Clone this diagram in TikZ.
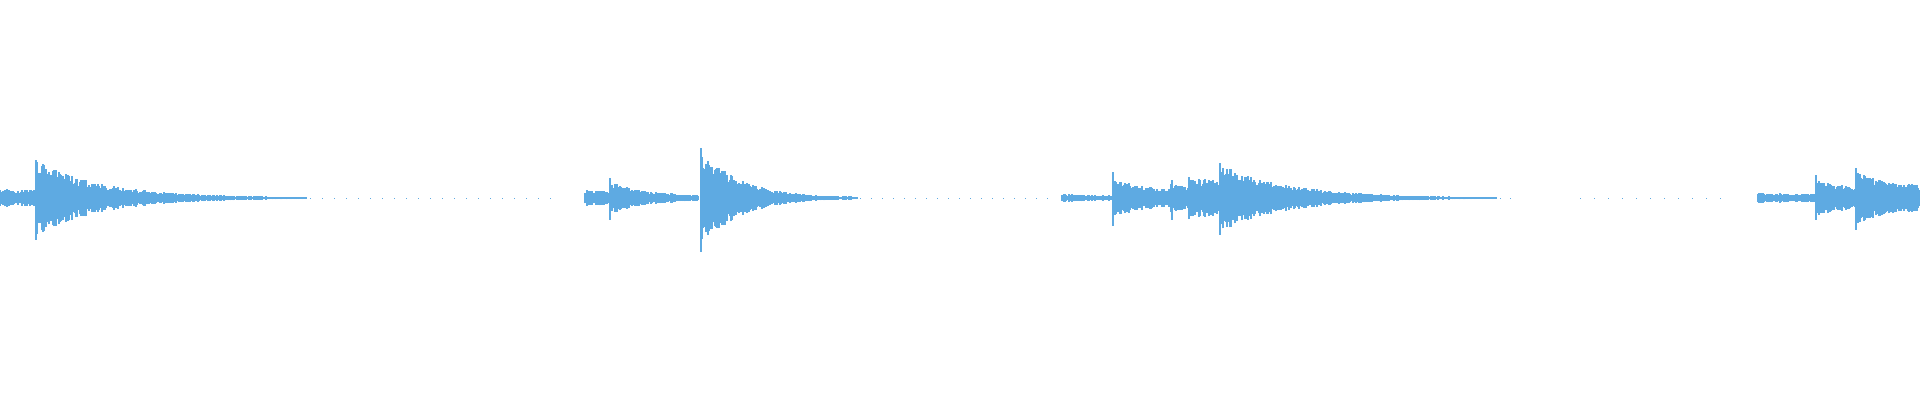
\documentclass[tikz,border=0pt]{standalone}
\definecolor{wave}{RGB}{94,170,226}
\newcommand\wburst[5]{% x0 x1 a0 a1 decay
  \foreach \x in {#1,...,#2}{%
    \pgfmathsetmacro\a{(#4+(#3-#4)*exp(-#5*(\x-#1)/(#2-#1+1)))*(0.55+0.45*rnd)}%
    \draw (\x,202-\a)--(\x,202+\a);}}
\newcommand\wdots[3]{% x0 x1 step
  \pgfmathtruncatemacro\wsec{#1+#3}%
  \foreach \x in {#1,\wsec,...,#2}{\draw (\x,201.5)--(\x+1.2,201.5);}}
\begin{document}
\begin{tikzpicture}[x=0.01cm,y=0.01cm,wv/.style={wave,line width=0.012cm}]
\useasboundingbox (0,0) rectangle (1920,400);
\pgfmathsetseed{7}
\begin{scope}[wv]
\wburst{0}{34}{9}{7}{0.5}
\wburst{36}{306}{38}{0.4}{4}
\draw (36,160)--(36,240);
\wdots{310}{560}{12}
\wburst{585}{608}{8}{6}{0.5}
\wburst{610}{698}{17}{3}{3}
\draw (610,180)--(610,222);
\wburst{701}{857}{50}{0.6}{4}
\draw (701,148)--(701,252);
\wdots{860}{1050}{11}
\wburst{1062}{1112}{4}{2}{1}
\wburst{1113}{1170}{20}{8}{2}
\draw (1113,174)--(1113,228);
\wburst{1171}{1188}{14}{11}{1}
\draw (1172,180)--(1172,220);
\wburst{1189}{1219}{22}{14}{1}
\wburst{1220}{1496}{34}{0.4}{4}
\draw (1220,165)--(1220,237);
\wdots{1500}{1505}{10}
\wdots{1580}{1725}{14}
\wburst{1758}{1815}{5}{3}{0.5}
\wburst{1816}{1855}{18}{10}{1.5}
\draw (1816,180)--(1816,225);
\wburst{1856}{1920}{27}{9}{1.5}
\draw (1856,170)--(1856,232);
\end{scope}
\end{tikzpicture}
\end{document}
